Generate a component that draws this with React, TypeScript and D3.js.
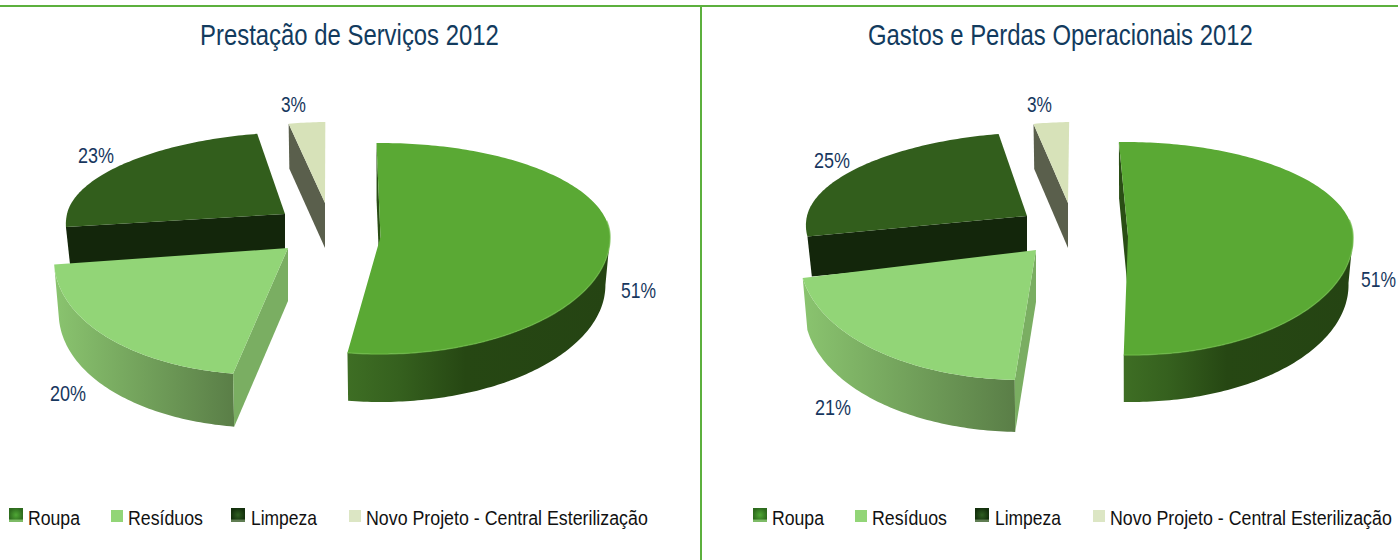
import React from "react";
import * as d3 from "d3";

const categories = ["Roupa", "Resíduos", "Limpeza", "Novo Projeto - Central Esterilização"];
const titles = ["Prestação de Serviços 2012", "Gastos e Perdas Operacionais 2012"];
const valuesServicos = [51, 20, 23, 3];
const valuesGastos = [51, 21, 25, 3];
const topColors = ["#5AA934", "#92D577", "#325E1C", "#D7E2B9"];
const cutWallColors = ["#2A4E15", "#7AAE62", "#13260B", "#5A5F4C"];

type G = { ax: number; ay: number; rx: number; rb: number; rf: number; depth: number; shear: number };
const g = (ax: number, ay: number, rx: number, rb: number, rf: number, depth: number, shear: number): G => ({ ax, ay, rx, rb, rf, depth, shear });

// exploded-slice geometry per chart: apex, radii, wall depth, shear
const layouts = [
  {
    start: -1,
    slices: [
      g(380.5, 237, 229.5, 94, 117, 48, 0),
      g(288, 248, 233, 130, 127, 53, -0.17),
      g(285, 214, 218, 82, 100, 40, -0.225),
      g(325, 203, 190, 81, 81, 45, -0.045),
    ],
    title: { x: 200, w: 299 },
    labels: [{ x: 621, y: 298, w: 35 }, { x: 50, y: 401, w: 36 }, { x: 78, y: 163, w: 36 }, { x: 281, y: 112, w: 25 }],
    legendOffset: 0,
  },
  {
    start: -1.6,
    slices: [
      g(1128, 236, 225, 94, 119, 47, 0.03),
      g(1036, 250, 236, 130, 130, 52, -0.1),
      g(1027, 216, 220, 84, 95, 40, -0.23),
      g(1068, 203, 190, 81, 81, 45, -0.08),
    ],
    title: { x: 868, w: 385 },
    labels: [{ x: 1361, y: 287, w: 35 }, { x: 815, y: 415, w: 36 }, { x: 814, y: 168, w: 36 }, { x: 1027, y: 112, w: 25 }],
    legendOffset: 744,
  },
];
const chartValues = [valuesServicos, valuesGastos];

const legendTexts = [{ x: 28, w: 52 }, { x: 128, w: 75 }, { x: 251, w: 66 }, { x: 366, w: 282 }];
const legendSwatches = [{ x: 9, y: 508, s: 14 }, { x: 111, y: 510, s: 12 }, { x: 231, y: 508, s: 14 }, { x: 349, y: 510, s: 12 }];

const DEG = Math.PI / 180;
const FRAME = "#5CB03E";
const LABEL = "#17375E";
const FONT_NAME = "'Liberation Sans', Arial, sans-serif";
const line = d3.line<[number, number]>().x((d) => d[0]).y((d) => d[1]);

let ctx: CanvasRenderingContext2D | null = null;
function naturalWidth(text: string, size: number) {
  if (!ctx) ctx = document.createElement("canvas").getContext("2d");
  ctx!.font = `${size}px ${FONT_NAME}`;
  return ctx!.measureText(text).width;
}

// text squeezed horizontally to the width it has in the picture
function Fit({ x, y, w, size, fill, children }: { x: number; y: number; w: number; size: number; fill: string; children: string }) {
  const sx = w / naturalWidth(children, size);
  return (
    <text transform={`translate(${x},${y}) scale(${sx},1)`} fontSize={size} fill={fill} fontFamily={FONT_NAME}>
      {children}
    </text>
  );
}

function pt(s: G, a: number, drop = 0, scale = 1): [number, number] {
  const c = Math.cos(a);
  const dy = -(c > 0 ? s.rb : s.rf) * c;
  const dx = s.rx * Math.sin(a) + s.shear * dy;
  return [s.ax + dx * scale, s.ay + dy + drop];
}
function arcPts(s: G, a0: number, a1: number, drop = 0, scale = 1) {
  const n = Math.max(2, Math.ceil(Math.abs(a1 - a0) / DEG));
  return d3.range(n + 1).map((i) => pt(s, a0 + ((a1 - a0) * i) / n, drop, scale));
}
const WALL_SCALE = 0.98;

function Slice({ s, a0, a1, i, chart }: { s: G; a0: number; a1: number; i: number; chart: number }) {
  const apex: [number, number] = [s.ax, s.ay];
  const cutDrop = i === 0 ? s.depth * 1.2 : s.depth;
  const apexLow: [number, number] = [s.ax, s.ay + cutDrop];
  const w0 = Math.max(a0, 90 * DEG);
  const w1 = Math.min(a1, 270 * DEG);
  const hasOuter = w1 > w0;
  const outer = hasOuter
    ? [...arcPts(s, w0, w1), ...arcPts(s, w1, w0, s.depth, WALL_SCALE)]
    : [];
  const cut = [pt(s, a0), pt(s, a0, cutDrop, WALL_SCALE), apexLow, apex];
  const top = [apex, ...arcPts(s, a0, a1)];
  return (
    <g>
      {hasOuter && i < 2 && (
        <path d={line(outer) + "Z"} fill={`url(#wall${i}-${chart})`} />
      )}
      <path d={line(cut) + "Z"} fill={cutWallColors[i]} />
      <path d={line(top) + "Z"} fill={topColors[i]} />
      {i === 0 && (
        <path d={line(arcPts(s, 80 * DEG, a1))!} fill="none" stroke="#6DBB47" strokeOpacity={0.7} strokeWidth={1.5} />
      )}
    </g>
  );
}

function Swatch({ x, y, s, i, chart }: { x: number; y: number; s: number; i: number; chart: number }) {
  if (i !== 0 && i !== 2) return <rect x={x} y={y} width={s} height={s} fill={i === 1 ? topColors[1] : "#DCE6C4"} />;
  return (
    <g>
      <rect x={x} y={y} width={s} height={s} fill={`url(#sw${i}-${chart})`} />
      <rect x={x} y={y + s - 2.5} width={s} height={2.5} fill={i === 0 ? "#7DBB66" : "#5F7D52"} />
    </g>
  );
}

function Pie({ chart }: { chart: number }) {
  const lay = layouts[chart];
  const values = chartValues[chart];
  const arcs = d3
    .pie<number>()
    .sort(null)
    .startAngle(lay.start * DEG)
    .endAngle(lay.start * DEG + 2 * Math.PI)(values);
  const order = [3, 2, 0, 1];
  return (
    <g>
      <defs>
        <linearGradient id={`wall0-${chart}`} x1="0" x2="1" y1="0" y2="0">
          <stop offset="0" stopColor="#3E6E24" />
          <stop offset="0.2" stopColor="#35601E" />
          <stop offset="0.45" stopColor="#264713" />
          <stop offset="1" stopColor="#254413" />
        </linearGradient>
        <linearGradient id={`wall1-${chart}`} x1="0" x2="1" y1="0" y2="0">
          <stop offset="0" stopColor="#8AC46F" />
          <stop offset="1" stopColor="#5A7E47" />
        </linearGradient>
        <radialGradient id={`sw0-${chart}`}>
          <stop offset="0" stopColor="#4FA835" />
          <stop offset="1" stopColor="#2E6B1E" />
        </radialGradient>
        <radialGradient id={`sw2-${chart}`}>
          <stop offset="0" stopColor="#2F5F22" />
          <stop offset="1" stopColor="#14300D" />
        </radialGradient>
      </defs>
      {order.map((i) => (
        <Slice key={i} s={lay.slices[i]} a0={arcs[i].startAngle} a1={arcs[i].endAngle} i={i} chart={chart} />
      ))}
      {values.map((v, i) => (
        <Fit key={i} x={lay.labels[i].x} y={lay.labels[i].y} w={lay.labels[i].w} size={21.5} fill={LABEL}>
          {`${v}%`}
        </Fit>
      ))}
      <Fit x={lay.title.x} y={45} w={lay.title.w} size={29} fill="#123B5E">
        {titles[chart]}
      </Fit>
      {categories.map((c, i) => {
        const t = legendTexts[i];
        const sw = legendSwatches[i];
        return (
          <g key={c}>
            <Swatch x={sw.x + lay.legendOffset} y={sw.y} s={sw.s} i={i} chart={chart} />
            <Fit x={t.x + lay.legendOffset} y={525} w={t.w} size={21} fill="#111">
              {c}
            </Fit>
          </g>
        );
      })}
    </g>
  );
}

export default function App() {
  return (
    <svg width={1398} height={560} viewBox="0 0 1398 560"
      style={{ position: "fixed", left: 0, top: 0, display: "block", background: "#fff" }}>
      <rect x={0} y={5} width={1398} height={2} fill={FRAME} />
      <rect x={700} y={6} width={2} height={554} fill={FRAME} />
      <Pie chart={0} />
      <Pie chart={1} />
    </svg>
  );
}
